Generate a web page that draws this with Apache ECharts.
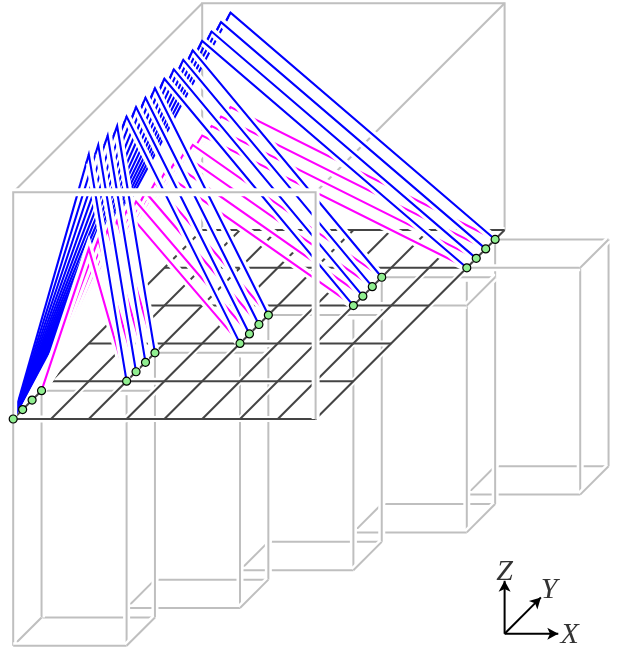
<!DOCTYPE html>
<html>
<head>
<meta charset="utf-8">
<style>
  html, body { margin: 0; padding: 0; background: #fff; }
  #chart { width: 623px; height: 647px; }
</style>
<script src="https://cdn.jsdelivr.net/npm/echarts@6/dist/echarts.min.js"></script>
</head>
<body>
<div id="chart"></div>
<script>
// values are in grid cells of the oblique (X, Y, Z) drawing
const gridX = [0, 1, 2, 3, 4, 5, 6, 7, 8];
const gridY = [0, 1, 2, 3, 4, 5];
const cubeZ = [0, 6];

const blockX = [0, 2, 4, 6, 8];
const blockY = [0, 1, 2, 3, 4];
const blockWidth = 3;
const blockDepth = 0.75;
const blockZ = [-6, 0];
const rowOffset = [0, 0.25, 0.5, 0.75];

const apexX = 2;
const apexY = [0, 0.25, 0.5, 0.75, 1, 1.25, 1.5, 1.75, 2, 2.25, 2.5, 2.75, 3, 3.25, 3.5, 3.75];
const endX = [2, 2, 2, 2, 4, 4, 4, 4, 6, 6, 6, 6, 8, 8, 8, 8];
const endY = [1, 1.25, 1.5, 1.75, 2, 2.25, 2.5, 2.75, 3, 3.25, 3.5, 3.75, 4, 4.25, 4.5, 4.75];
const blueApexZ = 7;
const magentaApexZ = 4.5;
const blueStart = [0, 0, 0];
const magentaStart = [0, 0.75, 0];

const triadOrigin = [13, 0, -5.68];
const triadTips = [[1.42, 0, 0], [0, 0.96, 0], [0, 0, 1.4]];
const triadLabels = ["X", "Y", "Z"];
const triadLabelAt = [[1.72, 0, -0.05], [0.18, 1, 0.16], [0, 0, 1.62]];

const UNIT = 37.8;
const ORIGIN_X = 13.2;
const ORIGIN_Y = 419;
const GREY = "#bfbfbf";
const DARK = "#444444";
const BLUE = "#0000ff";
const MAGENTA = "#ff00ff";
// part of the rising blue leg put back over the halo of its own falling leg
const APEX_STUB = 0.035;

const project = p => [p[0] + p[1], p[1] + p[2]];
const lerp = (a, b, t) => a.map((v, i) => v + (b[i] - v) * t);

const series = [];
let order = 10;

function stroke(points, color, width) {
  series.push({
    type: "line",
    data: points.map(project),
    symbol: "none",
    silent: true,
    z: order++,
    lineStyle: { color, width, join: "miter", cap: "butt" }
  });
}

function edge(points, color, width, halo) {
  stroke(points, "#ffffff", halo);
  stroke(points, color, width);
}

function drawBlock(x, y) {
  const x1 = x + blockWidth;
  const y1 = y + blockDepth;
  const z0 = blockZ[0];
  const z1 = blockZ[1];
  // back faces first so the front edges cut them
  edge([[x, y1, z1], [x1, y1, z1]], GREY, 2, 7);
  edge([[x, y1, z0], [x1, y1, z0]], GREY, 2, 7);
  edge([[x, y1, z1], [x, y1, z0]], GREY, 2, 7);
  edge([[x1, y1, z1], [x1, y1, z0]], GREY, 2, 7);
  edge([[x, y, z0], [x, y1, z0]], GREY, 2, 7);
  // the front left edge is hidden just under the floor of the grid
  edge([[x, y, y === 0 ? z1 : -0.37], [x, y, z0]], GREY, 2, 7);
  edge([[x1, y, z1], [x1, y, z0]], GREY, 2, 7);
  edge([[x, y, z0], [x1, y, z0]], GREY, 2, 7);
  edge([[x, y, z1], [x1, y, z1]], GREY, 2, 7);
  edge([[x1, y, z1], [x1, y1, z1]], GREY, 2, 7);
  edge([[x1, y, z0], [x1, y1, z0]], GREY, 2, 7);
}

const xMax = gridX[gridX.length - 1];
const yMax = gridY[gridY.length - 1];
const topZ = cubeZ[1];

// back of the big box
stroke([[0, yMax, 0], [0, yMax, topZ], [xMax, yMax, topZ], [xMax, yMax, 0]], GREY, 2);
stroke([[0, 0, topZ], [0, yMax, topZ]], GREY, 2);
stroke([[xMax, 0, topZ], [xMax, yMax, topZ]], GREY, 2);

// blocks below the floor, far one first
for (let i = blockX.length - 1; i >= 0; i--) {
  drawBlock(blockX[i], blockY[i]);
}

// floor grid: all halos, then all lines, so the grid does not cut itself
const floorLines = [];
gridY.forEach(y => floorLines.push([[0, y, 0], [xMax, y, 0]]));
gridX.forEach(x => floorLines.push([[x, 0, 0], [x, yMax, 0]]));
floorLines.forEach(l => stroke(l, "#ffffff", 6));
floorLines.forEach(l => stroke(l, DARK, 2));

// rising blue legs have no halo, that keeps the fan solid near the corner
apexY.forEach(y => stroke([blueStart, [apexX, y, blueApexZ]], BLUE, 2.1));

// magenta curves, far one first
for (let k = apexY.length - 1; k >= 0; k--) {
  edge(
    [magentaStart, [apexX, apexY[k], magentaApexZ], [endX[k], endY[k], 0]],
    MAGENTA, 2.1, 8.5
  );
}

// falling blue legs, far one first
for (let k = apexY.length - 1; k >= 0; k--) {
  const apex = [apexX, apexY[k], blueApexZ];
  const end = [endX[k], endY[k], 0];
  stroke([apex, end], "#ffffff", 8.5);
  stroke([lerp(apex, blueStart, APEX_STUB), apex, end], BLUE, 2.1);
}

// front of the big box, over everything
edge([[0, 0, 0], [0, 0, topZ], [xMax, 0, topZ], [xMax, 0, 0]], GREY, 2, 8);

// nodes
const nodes = [];
blockX.forEach((x, i) => {
  rowOffset.forEach(r => nodes.push(project([x, blockY[i] + r, 0])));
});
series.push({
  type: "scatter",
  data: nodes,
  symbolSize: 8,
  silent: true,
  z: order++,
  itemStyle: { color: "#90ee90", borderColor: "#000000", borderWidth: 1.2, opacity: 1 }
});

// axis triad
const add = (a, b) => [a[0] + b[0], a[1] + b[1], a[2] + b[2]];
const arrowTurn = [-90, -45, 0];
triadTips.forEach((tip, i) => {
  series.push({
    type: "line",
    silent: true,
    z: order++,
    lineStyle: { color: "#000000", width: 2 },
    itemStyle: { color: "#000000" },
    data: [
      { value: project(triadOrigin), symbol: "none" },
      {
        value: project(add(triadOrigin, tip)),
        symbol: "arrow",
        symbolSize: [9, 11],
        symbolRotate: arrowTurn[i]
      }
    ]
  });
});
series.push({
  type: "scatter",
  silent: true,
  z: order++,
  symbolSize: 1,
  itemStyle: { color: "transparent" },
  data: triadLabels.map((name, i) => ({
    name,
    value: project(add(triadOrigin, triadLabelAt[i]))
  })),
  label: {
    show: true,
    position: "inside",
    formatter: "{b}",
    fontFamily: "Liberation Serif",
    fontStyle: "italic",
    fontSize: 30,
    color: "#000000",
    textBorderWidth: 0
  }
});

const chart = echarts.init(document.getElementById("chart"), null, { renderer: "canvas" });
chart.setOption({
  animation: false,
  backgroundColor: "#ffffff",
  grid: { left: 0, right: 0, top: 0, bottom: 0 },
  xAxis: { type: "value", show: false, min: -ORIGIN_X / UNIT, max: (623 - ORIGIN_X) / UNIT },
  yAxis: { type: "value", show: false, min: (ORIGIN_Y - 647) / UNIT, max: ORIGIN_Y / UNIT },
  series
});
</script>
</body>
</html>
